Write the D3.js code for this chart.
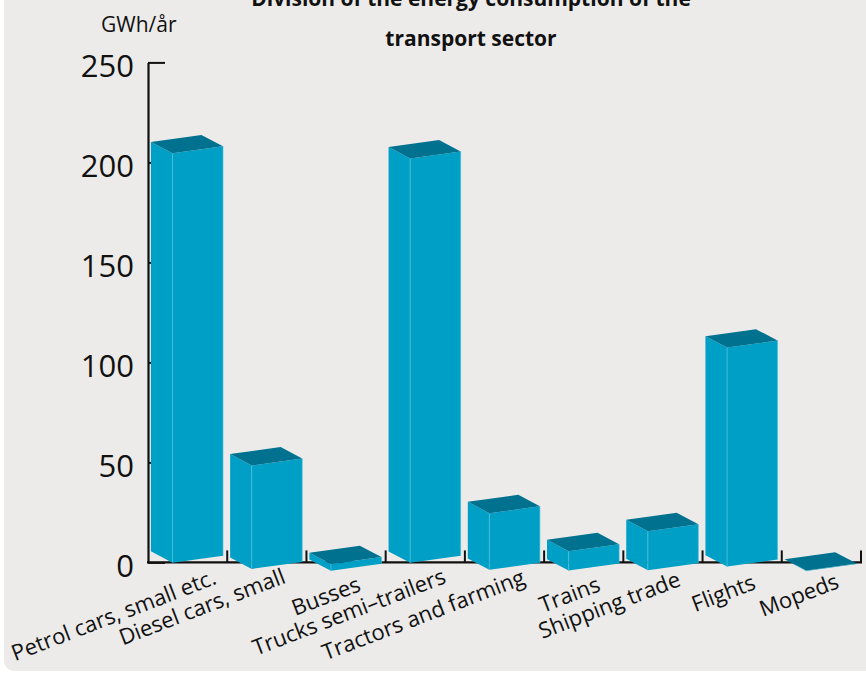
<!DOCTYPE html>
<html>
<head>
<meta charset="utf-8">
<script src="https://cdn.jsdelivr.net/npm/d3@7"></script>
<style>
  html, body { margin: 0; padding: 0; background: #ffffff; }
  svg { display: block; }
</style>
</head>
<body>
<script>
// Energy use of the transport sector, GWh per year
const categories = [
  "Petrol cars, small etc.",
  "Diesel cars, small",
  "Busses",
  "Trucks semi–trailers",
  "Tractors and farming",
  "Trains",
  "Shipping trade",
  "Flights",
  "Mopeds"
];
const values = [204.7, 51.7, 3.4, 202.2, 28.3, 9.7, 19.5, 109.5, 0.2];
const yTicks = [0, 50, 100, 150, 200, 250];
const unitLabel = "GWh/år";
const titleLines = ["Division of the energy consumption of the", "transport sector"];

// hand-placed offsets of the slanted category labels (dx from band centre, dy below the baseline)
const labelOffsets = [[30, 21], [20, 20], [16, 28], [22, 20], [22, 21], [18, 28], [19, 23], [15, 26], [19, 25]];

const W = 866, H = 673;
const FONT = "'Open Sans', 'Noto Sans', sans-serif";
const FACE = "#00a0c6", TOP = "#007290", EDGE = "#4cbfdc";

const svg = d3.select("body").append("svg")
  .attr("width", W).attr("height", H);

// panel
svg.append("rect")
  .attr("x", 4).attr("y", -20).attr("width", W + 20).attr("height", H - 2 + 20)
  .attr("rx", 10).attr("fill", "#ecebe9");

const y = d3.scaleLinear().domain([0, 250]).range([562.4, 62.4]);
const x = d3.scaleBand().domain(categories).range([148, 861]).padding(0);
const bw = x.bandwidth();
const y0 = y(0);

// title
svg.append("g").selectAll("text").data(titleLines).join("text")
  .attr("x", 471).attr("y", (d, i) => 6 + i * 40)
  .attr("text-anchor", "middle")
  .attr("font-family", FONT).attr("font-weight", 700).attr("font-size", 21)
  .attr("fill", "#111")
  .text(d => d);

svg.append("text")
  .attr("x", 101).attr("y", 32)
  .attr("font-family", FONT).attr("font-size", 21).attr("fill", "#111")
  .text(unitLabel);

// y axis with inward ticks
const yAxis = svg.append("g")
  .attr("transform", `translate(148,0)`)
  .call(d3.axisLeft(y).tickValues(yTicks).tickSizeInner(-17).tickSizeOuter(0).tickPadding(14));
yAxis.select(".domain").attr("stroke", "#111").attr("stroke-width", 2.2);
yAxis.selectAll(".tick line").attr("stroke", "#111").attr("stroke-width", 2);
yAxis.selectAll(".tick text")
  .attr("font-family", FONT).attr("font-size", 31).attr("fill", "#111")
  .attr("dy", null).attr("y", 13.8);

// category axis: baseline and boundary ticks
svg.append("line")
  .attr("x1", 147).attr("x2", x.range()[1] + 1)
  .attr("y1", y0).attr("y2", y0)
  .attr("stroke", "#111").attr("stroke-width", 2.2);
svg.append("g").selectAll("line").data(categories).join("line")
  .attr("x1", d => x(d) + bw).attr("x2", d => x(d) + bw)
  .attr("y1", y0).attr("y2", y0 - 12)
  .attr("stroke", "#111").attr("stroke-width", 2);

// 3D boxes: front corner plus two receding faces and a top
const LEFT = [-21.6, -11.4], RIGHT = [50.5, -7];
const SAG = 0.0203, DROP = 8.6;
const bars = svg.append("g");
categories.forEach((c, i) => {
  const h = y0 - y(values[i]);
  const fx = x(c) + 24.5;
  const fb = y0 + DROP - SAG * h;   // front-bottom corner
  const ft = fb - h;                // front-top corner
  const P = (dx, dy, yy) => [fx + dx, yy + dy];
  const poly = pts => pts.map(p => p.join(",")).join(" ");
  const g = bars.append("g");
  g.append("polygon").attr("fill", FACE)
    .attr("points", poly([[fx, ft], P(LEFT[0], LEFT[1], ft), P(LEFT[0], LEFT[1], fb), [fx, fb]]));
  g.append("polygon").attr("fill", FACE)
    .attr("points", poly([[fx, ft], P(RIGHT[0], RIGHT[1], ft), P(RIGHT[0], RIGHT[1], fb), [fx, fb]]));
  if (h > 1) {
    g.append("line").attr("x1", fx).attr("x2", fx).attr("y1", ft).attr("y2", fb)
      .attr("stroke", EDGE).attr("stroke-width", 0.8);
    g.append("line").attr("x1", fx + RIGHT[0]).attr("x2", fx + RIGHT[0])
      .attr("y1", ft + RIGHT[1]).attr("y2", fb + RIGHT[1])
      .attr("stroke", EDGE).attr("stroke-width", 0.6);
  }
  g.append("polygon").attr("fill", TOP)
    .attr("points", poly([[fx, ft], P(LEFT[0], LEFT[1], ft),
      P(LEFT[0] + RIGHT[0], LEFT[1] + RIGHT[1], ft), P(RIGHT[0], RIGHT[1], ft)]));
});

// slanted category labels
svg.append("g").selectAll("text").data(categories).join("text")
  .attr("transform", (d, i) => `translate(${x(d) + bw / 2 + labelOffsets[i][0]},${y0 + labelOffsets[i][1]}) rotate(-21)`)
  .attr("text-anchor", "end")
  .attr("font-family", FONT).attr("font-size", 22).attr("fill", "#111")
  .text(d => d);
</script>
</body>
</html>
